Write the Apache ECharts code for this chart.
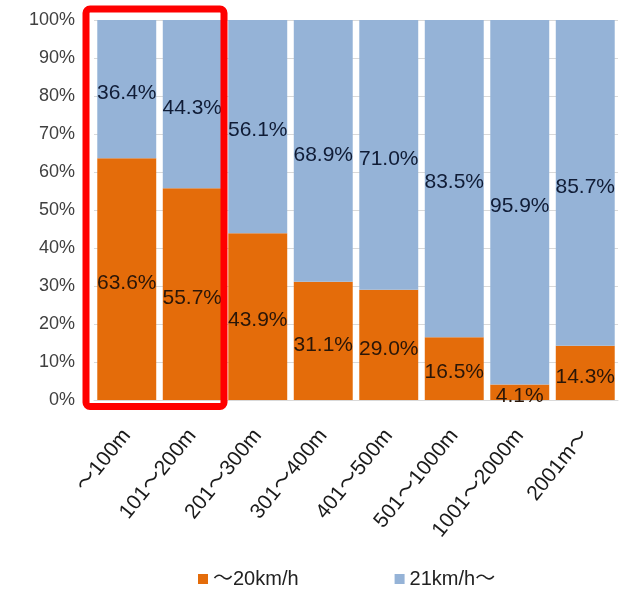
<!DOCTYPE html>
<html>
<head>
<meta charset="utf-8">
<script src="https://cdn.jsdelivr.net/npm/echarts@6/dist/echarts.min.js"></script>
<style>
html,body{margin:0;padding:0;background:#fff;}
#chart{width:628px;height:590px;}
</style>
</head>
<body>
<div id="chart"></div>
<script>
const categories = ['～100m','101～200m','201～300m','301～400m','401～500m','501～1000m','1001～2000m','2001m～'];
const seriesNames = ['～20km/h','21km/h～'];
const slowValues = [63.6, 55.7, 43.9, 31.1, 29.0, 16.5, 4.1, 14.3];
const fastValues = [36.4, 44.3, 56.1, 68.9, 71.0, 83.5, 95.9, 85.7];
const yTicks = [0, 10, 20, 30, 40, 50, 60, 70, 80, 90, 100];
const highlighted = [0, 1];

const FONT = '"Liberation Sans", Arial, "Noto Sans CJK JP", sans-serif';
const chart = echarts.init(document.getElementById('chart'), null, {renderer: 'canvas'});

const labelBase = {
  show: true,
  position: 'inside',
  fontFamily: FONT,
  fontSize: 21,
  offset: [0, 4],
  formatter: p => p.value.toFixed(1) + '%'
};

chart.setOption({
  animation: false,
  backgroundColor: '#ffffff',
  grid: {left: 94, right: 10, top: 20, bottom: 190, containLabel: false},
  legend: {
    data: seriesNames,
    left: 193,
    top: 564,
    itemWidth: 10,
    itemHeight: 10,
    itemGap: 96,
    icon: 'rect',
    textStyle: {fontFamily: FONT, fontSize: 20, lineHeight: 20, color: '#222'}
  },
  xAxis: {
    type: 'category',
    data: categories,
    axisLine: {show: true, lineStyle: {color: '#d9d9d9', width: 1}},
    axisTick: {show: false},
    axisLabel: {
      rotate: 51,
      margin: 32,
      interval: 0,
      fontFamily: FONT,
      fontSize: 21,
      color: '#1a1a1a'
    }
  },
  yAxis: {
    type: 'value',
    min: yTicks[0],
    max: yTicks[yTicks.length - 1],
    interval: yTicks[1] - yTicks[0],
    axisLine: {show: false},
    axisTick: {show: false},
    splitLine: {show: true, lineStyle: {color: '#d9d9d9', width: 1}},
    axisLabel: {
      formatter: '{value}%',
      margin: 19,
      fontFamily: FONT,
      fontSize: 18,
      color: '#404040'
    }
  },
  series: [
    {
      name: seriesNames[0],
      type: 'bar',
      stack: 'total',
      barCategoryGap: '10%',
      data: slowValues,
      itemStyle: {color: '#E46C0A'},
      label: Object.assign({}, labelBase, {color: '#2a1608'})
    },
    {
      name: seriesNames[1],
      type: 'bar',
      stack: 'total',
      barCategoryGap: '10%',
      data: fastValues,
      itemStyle: {color: '#95B3D7'},
      label: Object.assign({}, labelBase, {color: '#101c36'})
    }
  ]
});

// Red highlight box around the highlighted categories, positioned from the axes
const c0 = chart.convertToPixel({xAxisIndex: 0}, highlighted[0]);
const c1 = chart.convertToPixel({xAxisIndex: 0}, highlighted[highlighted.length - 1]);
const cNext = chart.convertToPixel({xAxisIndex: 0}, highlighted[0] + 1);
const band = cNext - c0;
const yTop = chart.convertToPixel({yAxisIndex: 0}, yTicks[yTicks.length - 1]);
const yBot = chart.convertToPixel({yAxisIndex: 0}, yTicks[0]);
const x1 = c0 - band / 2 - 8;
const x2 = c1 + band / 2 - 1;
chart.setOption({
  graphic: [{
    type: 'rect',
    shape: {x: x1, y: yTop - 11, width: x2 - x1, height: (yBot + 6.5) - (yTop - 11), r: 4},
    style: {fill: 'none', stroke: '#ff0000', lineWidth: 7},
    z: 100
  }]
});
</script>
</body>
</html>
